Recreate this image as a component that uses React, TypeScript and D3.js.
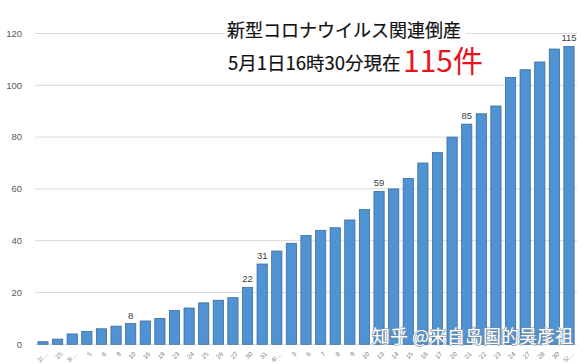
import React from "react";
import * as d3 from "d3";

const categories = ["2/…","25","3/…","5","6","9","10","16","19","23","24","25","26","27","30","31","4/…","3","6","7","8","9","10","13","14","15","16","17","20","21","22","23","24","27","28","30","5/…"];
const values = [1,2,4,5,6,7,8,9,10,13,14,16,17,18,22,31,36,39,42,44,45,48,52,59,60,64,70,74,80,85,89,92,103,106,109,114,115];
const labeledIdx = [6,14,15,23,29,36];
const yTicks = [0,20,40,60,80,100,120];
const titleLine1 = "新型コロナウイルス関連倒産";
const titleLine2 = "5月1日16時30分現在";
const titleCount = "115件";
const watermark = "知乎 @来自岛国的吴彦祖";

const W = 583, H = 364;

export default function App() {
  const x = d3.scaleBand<number>().domain(values.map((_, i) => i)).range([35.7, 576.3]).paddingInner(0.3).paddingOuter(0.15);
  const y = d3.scaleLinear().domain([0, 120]).range([344.3, 33.5]);
  const bw = x.bandwidth();
  const lab = "'Liberation Sans', Arial, sans-serif";
  const jp = "'Noto Sans CJK JP', sans-serif";
  return (
    <svg width={W} height={H} style={{ position: "absolute", left: 0, top: 0, background: "#fff" }}>
      <rect x={0} y={0} width={W} height={H} fill="#fff" />
      {yTicks.map((t) => (
        <g key={t}>
          <line x1={35} x2={577} y1={y(t)} y2={y(t)} stroke="#d9d9d9" strokeWidth={1} />
          <text x={22} y={y(t) + 3.3} textAnchor="end" fontSize={9.5} fill="#595959" fontFamily={lab}>{t}</text>
        </g>
      ))}
      {values.map((v, i) => (
        <rect key={i} x={x(i)!} y={y(v)} width={bw} height={y(0) - y(v)} fill="#4f93d3" stroke="#3a6c9c" strokeWidth={0.8} />
      ))}
      {labeledIdx.map((i) => (
        <text key={i} x={x(i)! + bw / 2} y={y(values[i]) - 5} textAnchor="middle" fontSize={9.5} fill="#404040" fontFamily={lab}>{values[i]}</text>
      ))}
      {categories.map((c, i) => {
        const cx = x(i)! + bw / 2 + 2;
        const cy = 351;
        return (
          <text key={i} x={cx} y={cy} transform={`rotate(-45 ${cx} ${cy})`} textAnchor="end" dominantBaseline="hanging" fontSize={6.5} fill="#7f7f7f" fontFamily={lab}>{c}</text>
        );
      })}
      <rect x={224} y={20} width={242} height={24} fill="#fff" />
      <text x={227} y={37} fontSize={18} fill="#111" fontFamily={jp} stroke="#111" strokeWidth={0.2}>{titleLine1}</text>
      <text x={228} y={70} fontSize={18.5} fill="#111" fontFamily={jp} stroke="#111" strokeWidth={0.2}>{titleLine2}</text>
      <text x={403} y={72} fontSize={30} fill="#e8141b" fontFamily={jp}>{titleCount}</text>
      <text x={372} y={343} fontSize={18} fill="#fff" stroke="#7a8fa5" strokeWidth={1.2} paintOrder="stroke" fontFamily="'Noto Sans CJK SC', sans-serif">{watermark}</text>
    </svg>
  );
}
